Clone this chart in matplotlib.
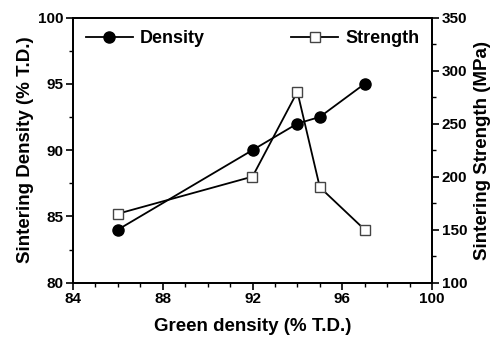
import matplotlib
matplotlib.use("Agg")
import matplotlib.pyplot as plt
from matplotlib.ticker import MultipleLocator

plt.rcParams['font.family'] = ['Liberation Sans', 'DejaVu Sans']
plt.rcParams['font.weight'] = 'bold'

green_density = [86, 92, 94, 95, 97]
sinter_density = [84, 90, 92, 92.5, 95]
sinter_strength = [165, 200, 280, 190, 150]

fig = plt.figure(figsize=(4.94, 3.38), dpi=100)
ax = fig.add_axes([73/494, 1-282.7/338, (432-73)/494, (282.7-17.5)/338])
ax2 = ax.twinx()

l1, = ax.plot(green_density, sinter_density, '-o', color='black', lw=1.3,
              markersize=8, label='Density')
l2, = ax2.plot(green_density, sinter_strength, '-s', color='black', lw=1.3,
               markersize=7.5, markerfacecolor='white', markeredgecolor='#444444',
               markeredgewidth=1.0, label='Strength')

ax.set_xlim(84, 100)
ax.set_ylim(80, 100)
ax2.set_ylim(100, 350)
ax.xaxis.set_major_locator(MultipleLocator(4))
ax.xaxis.set_minor_locator(MultipleLocator(1))
ax.yaxis.set_major_locator(MultipleLocator(5))
ax.yaxis.set_minor_locator(MultipleLocator(2.5))
ax2.yaxis.set_major_locator(MultipleLocator(50))
ax2.yaxis.set_minor_locator(MultipleLocator(25))

for a in (ax, ax2):
    a.tick_params(which='major', direction='out', length=5, width=1.2,
                  labelsize=11, pad=2)
    a.tick_params(which='minor', direction='out', length=3, width=1.0)
    for s in a.spines.values():
        s.set_linewidth(1.3)
ax.tick_params(top=False, right=False, which='both')
ax2.tick_params(left=False, which='both')

ax.set_xlabel('Green density (% T.D.)', fontsize=13.5, fontweight='bold', labelpad=8)
ax.set_ylabel('Sintering Density (% T.D.)', fontsize=13.5, fontweight='bold', labelpad=3)
ax2.set_ylabel('Sintering Strength (MPa)', fontsize=13.5, fontweight='bold', labelpad=5)

ax.legend(handles=[l1], loc='upper left', frameon=False, fontsize=13,
          handlelength=2.6, handletextpad=0.4, borderaxespad=0.3,
          bbox_to_anchor=(0.0, 1.0))
ax2.legend(handles=[l2], loc='upper right', frameon=False, fontsize=13,
           handlelength=2.6, handletextpad=0.4, borderaxespad=0.3,
           bbox_to_anchor=(1.0, 1.0))

fig.savefig('out.png', dpi=100)
